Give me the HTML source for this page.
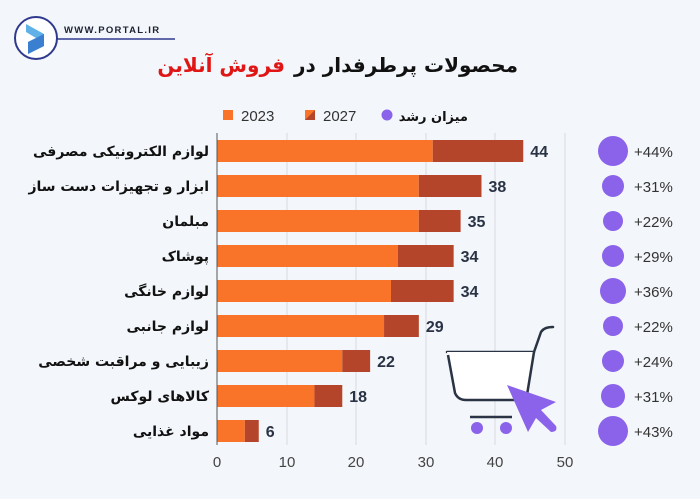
<!DOCTYPE html>
<html><head><meta charset="utf-8"><style>
body{margin:0;width:700px;height:494px;background:#f3f6fa;overflow:hidden}
svg text{font-family:"Liberation Sans","DejaVu Sans",sans-serif}
.fa{font-family:"DejaVu Sans","Noto Sans CJK SC",sans-serif;font-weight:bold}
</style></head><body>
<svg width="700" height="494" viewBox="0 0 700 494" xmlns="http://www.w3.org/2000/svg">
<rect width="700" height="494" fill="#f3f6fa"/>
<circle cx="36" cy="38" r="21" fill="#fff" stroke="#2f3a8f" stroke-width="2"/>
<path d="M26 24 L44 34 L44 46 L28 54 L28 42 L36 38 L26 32 Z" fill="#5fb1e8"/>
<path d="M28 42 L44 34 L44 46 L28 54 Z" fill="#3b7fd0"/>
<line x1="56" y1="39" x2="175" y2="39" stroke="#2f3a8f" stroke-width="1.5"/>
<text x="64" y="33" font-size="9.5" font-weight="bold" fill="#1b2233" letter-spacing="1.3">WWW.PORTAL.IR</text>
<text x="518" y="72" text-anchor="end" class="fa" font-size="20" fill="#111">محصولات پرطرفدار در</text>
<text x="285" y="72" text-anchor="end" class="fa" font-size="20" fill="#e01515">فروش آنلاین</text>
<rect x="223" y="110" width="10" height="10" fill="#f97329"/>
<text x="241" y="121" font-size="15" fill="#333">2023</text>
<path d="M305 110h10v10h-10z" fill="#f97329"/><path d="M315 110v10h-10z" fill="#b5452a"/>
<text x="323" y="121" font-size="15" fill="#333">2027</text>
<circle cx="387" cy="115" r="5.5" fill="#8a63ea"/>
<text x="468" y="121" text-anchor="end" class="fa" font-size="13" fill="#111">میزان رشد</text>
<g stroke="#d8dbe0" stroke-width="1">
<line x1="287" y1="133" x2="287" y2="445"/><line x1="356" y1="133" x2="356" y2="445"/>
<line x1="426" y1="133" x2="426" y2="445"/><line x1="495" y1="133" x2="495" y2="445"/>
<line x1="565" y1="133" x2="565" y2="445"/>
</g>
<g id="bars"></g>
<line x1="217" y1="133" x2="217" y2="445" stroke="#555" stroke-width="1"/>
<g font-size="15" fill="#444" text-anchor="middle">
<text x="217" y="467">0</text><text x="287" y="467">10</text><text x="356" y="467">20</text><text x="426" y="467">30</text><text x="495" y="467">40</text><text x="565" y="467">50</text>
</g>
<path d="M447 352 L534 352 L541 332 Q544 327 553 327" fill="none" stroke="#2b3444" stroke-width="2.5" stroke-linecap="round"/>
<path d="M447 352 L455 395 Q458 400 465 400 L528 400 L534 352 Z" fill="#fff"/>
<path d="M448 355 L455 393 Q458 400 466 400 L527 400 M534 352 L527 395" fill="none" stroke="#2b3444" stroke-width="2.5"/>
<line x1="470" y1="417" x2="512" y2="417" stroke="#2b3444" stroke-width="2.5"/>
<circle cx="477" cy="428" r="6" fill="#8a63ea"/><circle cx="506" cy="428" r="6" fill="#8a63ea"/>
<path d="M507 385 L556 402 L541 410 L556 426 Q558 432 551 432 L536 418 L528 432 Z" fill="#8a63ea"/>
</svg>
<script>
var d=[["لوازم الکترونیکی مصرفی",31,44,15,"+44%"],["ابزار و تجهیزات دست ساز",29,38,11,"+31%"],["مبلمان",29,35,10,"+22%"],["پوشاک",26,34,11,"+29%"],["لوازم خانگی",25,34,13,"+36%"],["لوازم جانبی",24,29,10,"+22%"],["زیبایی و مراقبت شخصی",18,22,11,"+24%"],["کالاهای لوکس",14,18,12,"+31%"],["مواد غذایی",4,6,15,"+43%"]];
var k=6.96,g=document.getElementById("bars"),s="";
d.forEach(function(r,i){var c=151+i*35;
s+='<rect x="217" y="'+(c-11)+'" width="'+(r[1]*k)+'" height="22" fill="#f97329"/>';
s+='<rect x="'+(217+r[1]*k)+'" y="'+(c-11)+'" width="'+((r[2]-r[1])*k)+'" height="22" fill="#b5452a"/>';
s+='<text x="'+(224+r[2]*k)+'" y="'+(c+6)+'" font-size="16" font-weight="bold" fill="#2a3345">'+r[2]+'</text>';
s+='<text x="209" y="'+(c+5)+'" text-anchor="end" class="fa" font-size="14" fill="#111">'+r[0]+'</text>';
s+='<circle cx="613" cy="'+c+'" r="'+r[3]+'" fill="#8a63ea"/>';
s+='<text x="634" y="'+(c+6)+'" font-size="15" fill="#333">'+r[4]+'</text>';});
g.innerHTML=s;
</script>
</body></html>
